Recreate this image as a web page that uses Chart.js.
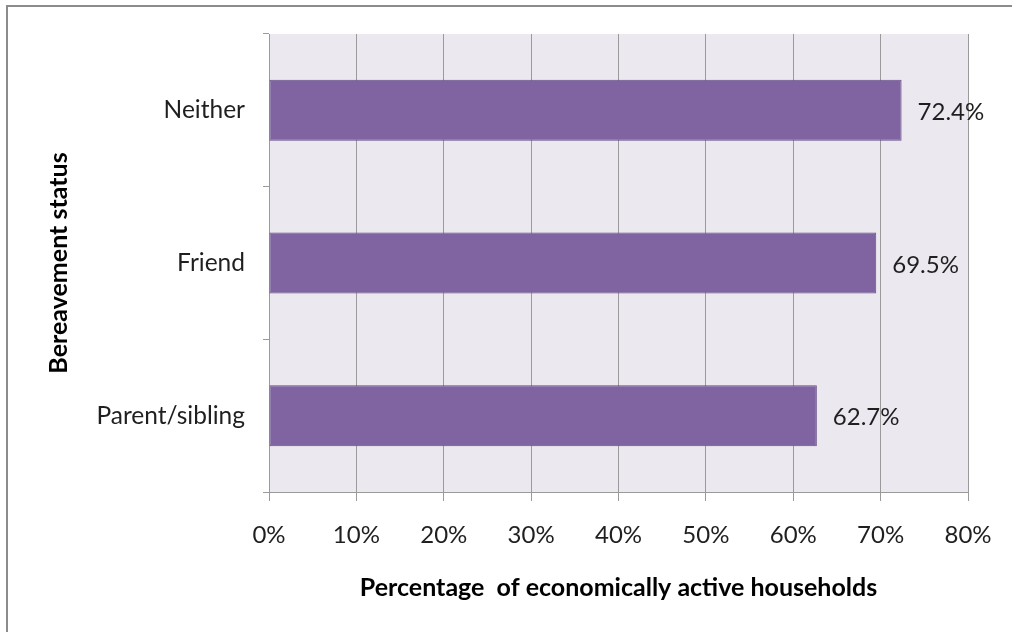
<!DOCTYPE html>
<html>
<head>
<meta charset="utf-8">
<script src="https://cdn.jsdelivr.net/npm/chart.js@4.4.1/dist/chart.umd.min.js"></script>
<style>
  html, body { margin: 0; padding: 0; background: #ffffff; }
  body { width: 1012px; height: 632px; position: relative; overflow: hidden; }
  #frame { position: absolute; left: 6px; top: 5px; width: 1100px; height: 700px;
           border-left: 2px solid #8c8c8c; border-top: 2px solid #8c8c8c; }
  #wrap { position: absolute; left: 0; top: 0; width: 1012px; height: 632px; }
</style>
</head>
<body>
<div id="frame"></div>
<div id="wrap"><canvas id="chart" width="1012" height="632"></canvas></div>
<script>
// Share of economically active households by bereavement status
const categories = ['Neither', 'Friend', 'Parent/sibling'];
const activeShare = [72.4, 69.5, 62.7];
const xTicks = [0, 10, 20, 30, 40, 50, 60, 70, 80];

const FONT = 'Lato, "Open Sans", sans-serif';
const TEXT = '#1f1f1f';
const GRID = '#9a9a9a';

// Light lavender fill behind the plotting area
const plotBackground = {
  id: 'plotBackground',
  beforeDraw(chart) {
    const { ctx, chartArea: a } = chart;
    ctx.save();
    ctx.fillStyle = '#ebe8ef';
    ctx.fillRect(a.left, a.top, a.right - a.left, a.bottom - a.top);
    ctx.restore();
  }
};

// Value labels to the right of each bar
const valueLabels = {
  id: 'valueLabels',
  afterDatasetsDraw(chart) {
    const { ctx } = chart;
    const meta = chart.getDatasetMeta(0);
    const values = chart.data.datasets[0].data;
    ctx.save();
    ctx.font = '24px ' + FONT;
    ctx.fillStyle = TEXT;
    ctx.textAlign = 'left';
    ctx.textBaseline = 'middle';
    meta.data.forEach((bar, i) => {
      ctx.fillText(values[i].toFixed(1) + '%', bar.x + 16, bar.y + 2);
    });
    ctx.restore();
  }
};

new Chart(document.getElementById('chart'), {
  type: 'bar',
  data: {
    labels: categories,
    datasets: [{
      data: activeShare,
      backgroundColor: '#8064a2',
      borderColor: '#654d85',
      borderWidth: 1,
      borderSkipped: false,
      barPercentage: 0.4,
      categoryPercentage: 1.0
    }]
  },
  options: {
    indexAxis: 'y',
    responsive: false,
    animation: false,
    events: [],
    layout: { padding: { top: 34, right: 44, bottom: 0, left: 0 } },
    plugins: { legend: { display: false }, tooltip: { enabled: false } },
    scales: {
      x: {
        min: 0,
        max: 80,
        afterBuildTicks(scale) { scale.ticks = xTicks.map(v => ({ value: v })); },
        afterFit(scale) { scale.height = 140; },
        grid: { color: GRID, lineWidth: 1, tickLength: 9, drawOnChartArea: true },
        border: { color: GRID, width: 1 },
        ticks: {
          color: TEXT,
          font: { family: FONT, size: 24 },
          padding: 20,
          callback: v => v + '%'
        },
        title: {
          display: true,
          text: 'Percentage  of economically active households',
          color: '#000',
          font: { family: FONT, size: 25, weight: 'bold' },
          padding: { top: 0, bottom: 29 }
        }
      },
      y: {
        afterFit(scale) { scale.width = 269; },
        grid: { color: GRID, lineWidth: 1, tickLength: 6, drawOnChartArea: false, offset: true },
        border: { color: GRID, width: 1 },
        ticks: {
          color: TEXT,
          font: { family: FONT, size: 24.5 },
          padding: 18
        },
        title: {
          display: true,
          text: 'Bereavement status',
          color: '#000',
          font: { family: FONT, size: 25, weight: 'bold' },
          padding: { top: 44, bottom: 0 }
        }
      }
    }
  },
  plugins: [plotBackground, valueLabels]
});
</script>
</body>
</html>
